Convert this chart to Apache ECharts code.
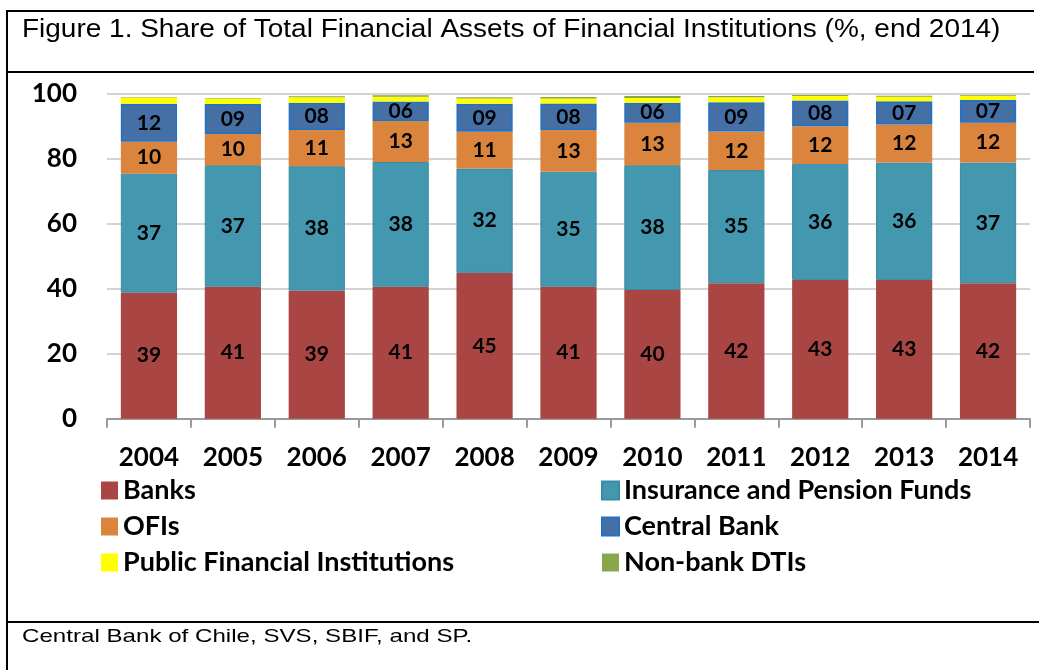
<!DOCTYPE html>
<html>
<head>
<meta charset="utf-8">
<script src="https://cdn.jsdelivr.net/npm/echarts@6/dist/echarts.min.js"></script>
<style>
  html, body { margin: 0; padding: 0; background: #fff; }
  #chart { width: 1039px; height: 670px; }
</style>
</head>
<body>
<div id="chart"></div>
<script>
// data (% of total financial assets)
const years = ['2004', '2005', '2006', '2007', '2008', '2009', '2010', '2011', '2012', '2013', '2014']
const banks = [38.8, 40.6, 39.4, 40.6, 44.9, 40.6, 39.6, 41.7, 42.7, 42.7, 41.7]
const insurance = [36.6, 37.4, 38.3, 38.4, 32.1, 35.4, 38.4, 34.8, 35.7, 36.1, 37.1]
const ofis = [9.8, 9.6, 11.1, 12.6, 11.3, 12.8, 13.1, 11.9, 11.6, 11.7, 12.3]
const centralBank = [11.7, 9.2, 8.4, 6.0, 8.6, 8.2, 6.1, 9.0, 7.9, 7.2, 7.0]
const publicFI = [1.9, 1.7, 1.7, 1.5, 1.6, 1.5, 1.5, 1.5, 1.4, 1.4, 1.3]
const nonBank = [0.2, 0.2, 0.3, 0.4, 0.4, 0.5, 0.6, 0.4, 0.3, 0.3, 0.2]
const yTicks = [0, 20, 40, 60, 80, 100]

const FONT = 'Lato'

// two-digit labels like the original ("09", "12")
const pad2 = p => String(Math.round(p.value)).padStart(2, '0')

const segLabel = {
  show: true,
  position: 'inside',
  color: '#000',
  fontFamily: FONT,
  fontWeight: 'bold',
  fontSize: 21,
  formatter: pad2
}

const legendText = { fontFamily: FONT, fontWeight: 'bold', fontSize: 27, color: '#000', lineHeight: 26 }

const chart = echarts.init(document.getElementById('chart'))

chart.setOption({
  animation: false,
  backgroundColor: '#fff',
  graphic: [
    // frame lines
    { type: 'line', shape: { x1: 7, y1: 11, x2: 1034, y2: 11 }, style: { stroke: '#000', lineWidth: 2 } },
    { type: 'line', shape: { x1: 7, y1: 72, x2: 1034, y2: 72 }, style: { stroke: '#000', lineWidth: 2 } },
    { type: 'line', shape: { x1: 7, y1: 622, x2: 1039, y2: 622 }, style: { stroke: '#000', lineWidth: 2 } },
    { type: 'line', shape: { x1: 7, y1: 10, x2: 7, y2: 670 }, style: { stroke: '#000', lineWidth: 2 } },
    {
      type: 'text', x: 22, y: 17, scaleX: 1.166, scaleY: 1.08,
      style: {
        text: 'Figure 1. Share of Total Financial Assets of Financial Institutions (%, end 2014)',
        font: '24px "Liberation Sans", Arial, sans-serif', fill: '#000'
      }
    },
    {
      type: 'text', x: 22, y: 627, scaleX: 1.27,
      style: {
        text: 'Central Bank of Chile, SVS, SBIF, and SP.',
        font: '19px "Liberation Sans", Arial, sans-serif', fill: '#000'
      }
    }
  ],
  legend: [
    {
      orient: 'vertical', left: 96, top: 472,
      data: ['Banks', 'OFIs', 'Public Financial Institutions'],
      icon: 'rect', itemWidth: 17, itemHeight: 18, itemGap: 9,
      textStyle: legendText
    },
    {
      orient: 'vertical', left: 596, top: 472,
      data: ['Insurance and Pension Funds', 'Central Bank', 'Non-bank DTIs'],
      icon: 'rect', itemWidth: 17, itemHeight: 18, itemGap: 9,
      textStyle: legendText
    }
  ],
  grid: { left: 107, right: 9, top: 93.7, height: 325, containLabel: false },
  xAxis: {
    type: 'category',
    data: years,
    axisLine: { lineStyle: { color: '#9a9a9a', width: 2 } },
    axisTick: { show: true, length: 9, lineStyle: { color: '#9a9a9a', width: 2 } },
    axisLabel: { color: '#000', fontFamily: FONT, fontWeight: 'bold', fontSize: 26, margin: 26 }
  },
  yAxis: {
    type: 'value',
    min: yTicks[0],
    max: yTicks[yTicks.length - 1],
    interval: yTicks[1] - yTicks[0],
    axisLine: { show: false },
    axisTick: { show: false },
    splitLine: { lineStyle: { color: '#c4c4c4', width: 1.5 } },
    axisLabel: { color: '#000', fontFamily: FONT, fontWeight: 'bold', fontSize: 26, margin: 30 }
  },
  series: [
    { name: 'Banks', type: 'bar', stack: 'a', barCategoryGap: '33%', data: banks,
      itemStyle: { color: '#a94644' }, label: segLabel },
    { name: 'Insurance and Pension Funds', type: 'bar', stack: 'a', data: insurance,
      itemStyle: { color: '#4397ae', borderColor: '#3a8ba3', borderWidth: 1 }, label: segLabel },
    { name: 'OFIs', type: 'bar', stack: 'a', data: ofis,
      itemStyle: { color: '#db843e' }, label: segLabel },
    { name: 'Central Bank', type: 'bar', stack: 'a', data: centralBank,
      itemStyle: { color: '#4470a6', borderColor: '#1f72c8', borderWidth: 1.5 }, label: segLabel },
    { name: 'Public Financial Institutions', type: 'bar', stack: 'a', data: publicFI,
      itemStyle: { color: '#ffff00' } },
    { name: 'Non-bank DTIs', type: 'bar', stack: 'a', data: nonBank,
      itemStyle: { color: '#8aa64d' } }
  ]
})
</script>
</body>
</html>
